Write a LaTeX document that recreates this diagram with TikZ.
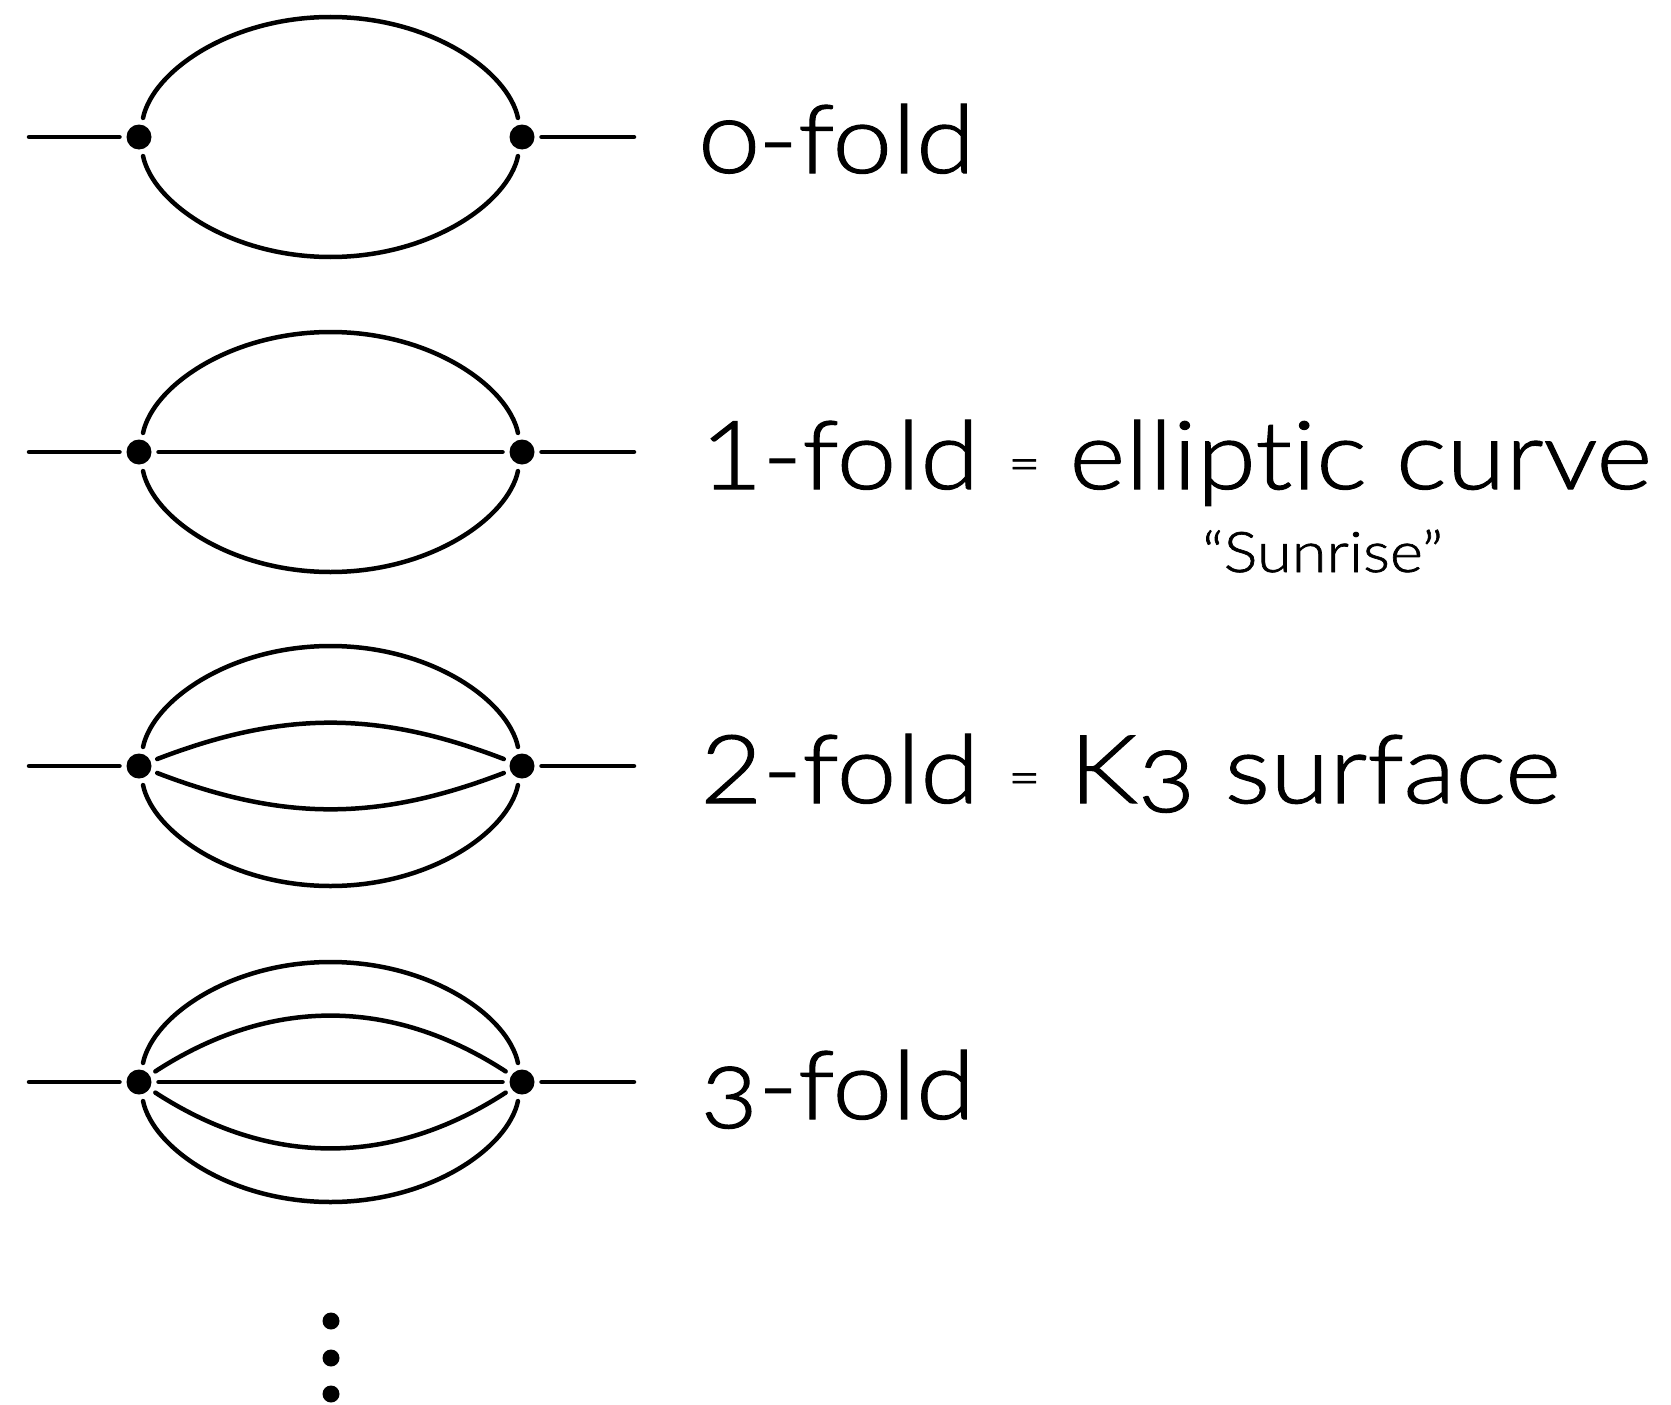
\documentclass[tikz,border=0pt]{standalone}
\usepackage{fontspec}
\IfFontExistsTF{Lato Light}
  {\setmainfont{Lato Light}[Ligatures={TeX,NoCommon}, Numbers=OldStyle,
                            FakeStretch=1.13, FakeBold=1.2]}
  {\setmainfont{Lato}[Ligatures={TeX,NoCommon}, FakeStretch=1.13]}
\usetikzlibrary{shapes.geometric}

\newcommand{\smalleq}{{\fontsize{52}{52}\selectfont\raisebox{10pt}{=}}}
\newcommand{\lnum}[1]{{\addfontfeature{Numbers=Lining}#1}}

\begin{document}
\begin{tikzpicture}[x=1pt, y=-1pt,
    prop/.style={line width=4.5pt, line cap=round},
    vert/.style={circle, fill=black, inner sep=0pt, minimum size=25pt, outer sep=7pt},
    ddot/.style={circle, fill=black, inner sep=0pt, minimum size=17pt},
    lbl/.style={anchor=base west, inner sep=0pt, font=\fontsize{95}{110}\selectfont},
    sublbl/.style={anchor=base west, inner sep=0pt, font=\fontsize{56}{64}\selectfont}
  ]
  \useasboundingbox (0,0) rectangle (1671,1405);

  % 0-fold
  \node[vert] (l0) at (139,137) {};
  \node[vert] (r0) at (522,137) {};
  \coordinate (a0) at (29,137);
  \coordinate (b0) at (634,137);
  \coordinate (n0) at (330.5,17);
  \coordinate (s0) at (330.5,257);
  \draw[prop] (a0) -- (l0);
  \draw[prop] (r0) -- (b0);
  \draw[prop] (l0) .. controls +(14,-66) and +(-100,0) .. (n0)
                   .. controls +(100,0) and +(-14,-66) .. (r0);
  \draw[prop] (l0) .. controls +(14,66) and +(-100,0) .. (s0)
                   .. controls +(100,0) and +(-14,66) .. (r0);
  \node[lbl] (t0) at (700,173) {0-fold};

  % 1-fold
  \node[vert] (l1) at (139,452) {};
  \node[vert] (r1) at (522,452) {};
  \coordinate (a1) at (29,452);
  \coordinate (b1) at (634,452);
  \coordinate (n1) at (330.5,332);
  \coordinate (s1) at (330.5,572);
  \draw[prop] (a1) -- (l1);
  \draw[prop] (r1) -- (b1);
  \draw[prop] (l1) .. controls +(14,-66) and +(-100,0) .. (n1)
                   .. controls +(100,0) and +(-14,-66) .. (r1);
  \draw[prop] (l1) .. controls +(14,66) and +(-100,0) .. (s1)
                   .. controls +(100,0) and +(-14,66) .. (r1);
  \draw[prop] (l1) -- (r1);
  \node[lbl] (t1) at (700,489) {\lnum{1}-fold \smalleq{} elliptic curve};
  \node[sublbl] (u1) at (1202,572) {“Sunrise”};

  % 2-fold
  \node[vert] (l2) at (139,766) {};
  \node[vert] (r2) at (522,766) {};
  \coordinate (a2) at (29,766);
  \coordinate (b2) at (634,766);
  \coordinate (n2) at (330.5,646);
  \coordinate (s2) at (330.5,886);
  \draw[prop] (a2) -- (l2);
  \draw[prop] (r2) -- (b2);
  \draw[prop] (l2) .. controls +(14,-66) and +(-100,0) .. (n2)
                   .. controls +(100,0) and +(-14,-66) .. (r2);
  \draw[prop] (l2) .. controls +(14,66) and +(-100,0) .. (s2)
                   .. controls +(100,0) and +(-14,66) .. (r2);
  \draw[prop] (l2) to[bend left=21] (r2);
  \draw[prop] (l2) to[bend right=21] (r2);
  \node[lbl] (t2) at (700,803) {\lnum{2}-fold \smalleq{} K3 surface};

  % 3-fold
  \node[vert] (l3) at (139,1082) {};
  \node[vert] (r3) at (522,1082) {};
  \coordinate (a3) at (29,1082);
  \coordinate (b3) at (634,1082);
  \coordinate (n3) at (330.5,962);
  \coordinate (s3) at (330.5,1202);
  \draw[prop] (a3) -- (l3);
  \draw[prop] (r3) -- (b3);
  \draw[prop] (l3) .. controls +(14,-66) and +(-100,0) .. (n3)
                   .. controls +(100,0) and +(-14,-66) .. (r3);
  \draw[prop] (l3) .. controls +(14,66) and +(-100,0) .. (s3)
                   .. controls +(100,0) and +(-14,66) .. (r3);
  \draw[prop] (l3) to[bend left=33] (r3);
  \draw[prop] (l3) to[bend right=33] (r3);
  \draw[prop] (l3) -- (r3);
  \node[lbl] (t3) at (700,1119) {3-fold};

  % and so on
  \node[ddot] (d1) at (331,1321) {};
  \node[ddot] (d2) at (331,1358) {};
  \node[ddot] (d3) at (331,1394) {};
\end{tikzpicture}
\end{document}
